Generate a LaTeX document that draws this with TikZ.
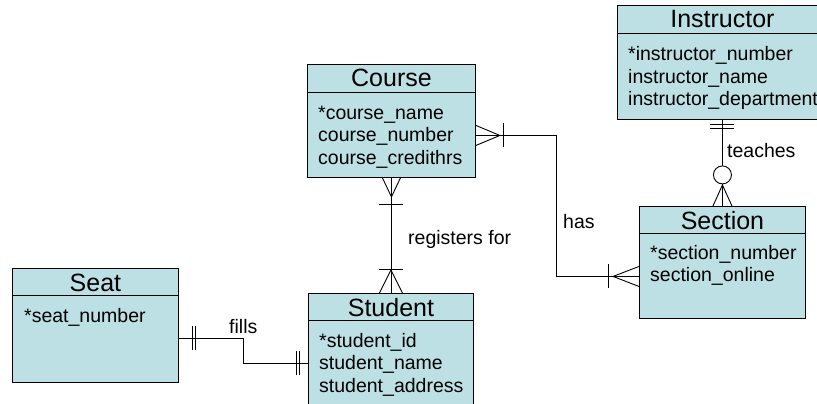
\documentclass[tikz,border=0pt]{standalone}
\usepackage{fontspec}
\setmainfont{Liberation Sans}
\usetikzlibrary{shapes.geometric, arrows}
\definecolor{erTeal}{RGB}{188,224,228}
\tikzstyle{entity} = [rectangle, draw=black, fill=erTeal, line width=0.9pt,%
inner sep=0pt, anchor=north west]
\tikzstyle{title} = [anchor=base, inner sep=0pt, font=\fontsize{25}{30}\selectfont]
\tikzstyle{attr} = [anchor=base west, inner sep=0pt, align=left,%
font=\fontsize{19.5}{22.5}\selectfont]
\tikzstyle{rel} = [anchor=base west, inner sep=0pt, font=\fontsize{19.5}{22.5}\selectfont]
\tikzstyle{line} = [line width=0.9pt]

\begin{document}
\begin{tikzpicture}[x=1pt, y=-1pt]
    \useasboundingbox (0,0) rectangle (817,404);

    % entities
    \node (instructor) [entity, minimum width=210pt, minimum height=114pt] at (617,5) {};
    \node (course) [entity, minimum width=168pt, minimum height=113pt] at (307,64) {};
    \node (section) [entity, minimum width=166pt, minimum height=112pt] at (639,206) {};
    \node (student) [entity, minimum width=165pt, minimum height=117pt] at (308,293) {};
    \node (seat) [entity, minimum width=166pt, minimum height=114pt] at (12,268) {};

    \node (instructorTitle) [title] at ([shift={(0,23)}]instructor.north) {Instructor};
    \node (courseTitle) [title] at ([shift={(0,23)}]course.north) {Course};
    \node (sectionTitle) [title] at ([shift={(0,23)}]section.north) {Section};
    \node (studentTitle) [title] at ([shift={(0,23)}]student.north) {Student};
    \node (seatTitle) [title] at ([shift={(0,23)}]seat.north) {Seat};

    \draw [line] ([shift={(0,28)}]instructor.north west) -- ([shift={(0,28)}]instructor.north east);
    \draw [line] ([shift={(0,28)}]course.north west) -- ([shift={(0,28)}]course.north east);
    \draw [line] ([shift={(0,27)}]section.north west) -- ([shift={(0,27)}]section.north east);
    \draw [line] ([shift={(0,27)}]student.north west) -- ([shift={(0,27)}]student.north east);
    \draw [line] ([shift={(0,27)}]seat.north west) -- ([shift={(0,27)}]seat.north east);

    % base of a multi-line node is its last line
    \node (instructorAttr) [attr] at ([shift={(11,101)}]instructor.north west)%
      {*instructor\_number\\instructor\_name\\instructor\_department};
    \node (courseAttr) [attr] at ([shift={(11,100)}]course.north west)%
      {*course\_name\\course\_number\\course\_credithrs};
    \node (sectionAttr) [attr] at ([shift={(11,75.5)}]section.north west)%
      {*section\_number\\section\_online};
    \node (studentAttr) [attr] at ([shift={(11,99)}]student.north west)%
      {*student\_id\\student\_name\\student\_address};
    \node (seatAttr) [attr] at ([shift={(12,54)}]seat.north west) {*seat\_number};

    % registers for
    \draw [line] (course.south) -- (course.south |- student.north);
    \draw [line] ([xshift=-9pt]course.south) -- ++(9,19) -- ++(9,-19);
    \draw [line] ([shift={(-12,27)}]course.south) -- ++(24,0);
    \draw [line] ([xshift=-11.5pt]student.north) -- ++(11.5,-23) -- ++(11.5,23);
    \draw [line] ([shift={(-12,-24)}]student.north) -- ++(24,0);
    \node (registersLabel) [rel] at (408,244) {registers for};

    % has
    \coordinate (hasBend) at (556,276);
    \draw [line] ([shift={(0,14.5)}]course.east) -| (hasBend) -- (hasBend -| section.west);
    \draw [line] ([shift={(0,4.5)}]course.east) -- ++(24,10) -- ++(-24,10);
    \draw [line] ([shift={(28,2.5)}]course.east) -- ++(0,24);
    \draw [line] ([shift={(0,4)}]section.west) -- ++(-26,10) -- ++(26,10);
    \draw [line] ([shift={(-31,2)}]section.west) -- ++(0,24);
    \node (hasLabel) [rel] at (563,228) {has};

    % teaches
    \draw [line] (instructor.south) -- (section.north);
    \draw [line] ([shift={(-12,5)}]instructor.south) -- ++(24,0);
    \draw [line] ([shift={(-12,9)}]instructor.south) -- ++(24,0);
    \node (teachesCircle) [circle, draw, line width=0.9pt, fill=white, minimum size=18pt,%
      inner sep=0pt] at ([shift={(0,55)}]instructor.south) {};
    \draw [line] ([xshift=-9.5pt]section.north) -- ++(9.5,-21) -- ++(9.5,21);
    \node (teachesLabel) [rel] at (727,157) {teaches};

    % fills
    \coordinate (fillsBend) at (243,363);
    \draw [line] ([shift={(0,13)}]seat.east) -| (fillsBend) -- (fillsBend -| student.west);
    \draw [line] ([shift={(14,1)}]seat.east) -- ++(0,24);
    \draw [line] ([shift={(17,1)}]seat.east) -- ++(0,24);
    \draw [line] ([shift={(-12,-12)}]fillsBend -| student.west) -- ++(0,24);
    \draw [line] ([shift={(-9,-12)}]fillsBend -| student.west) -- ++(0,24);
    \node (fillsLabel) [rel] at (229,333) {fills};
  \end{tikzpicture}
\end{document}
